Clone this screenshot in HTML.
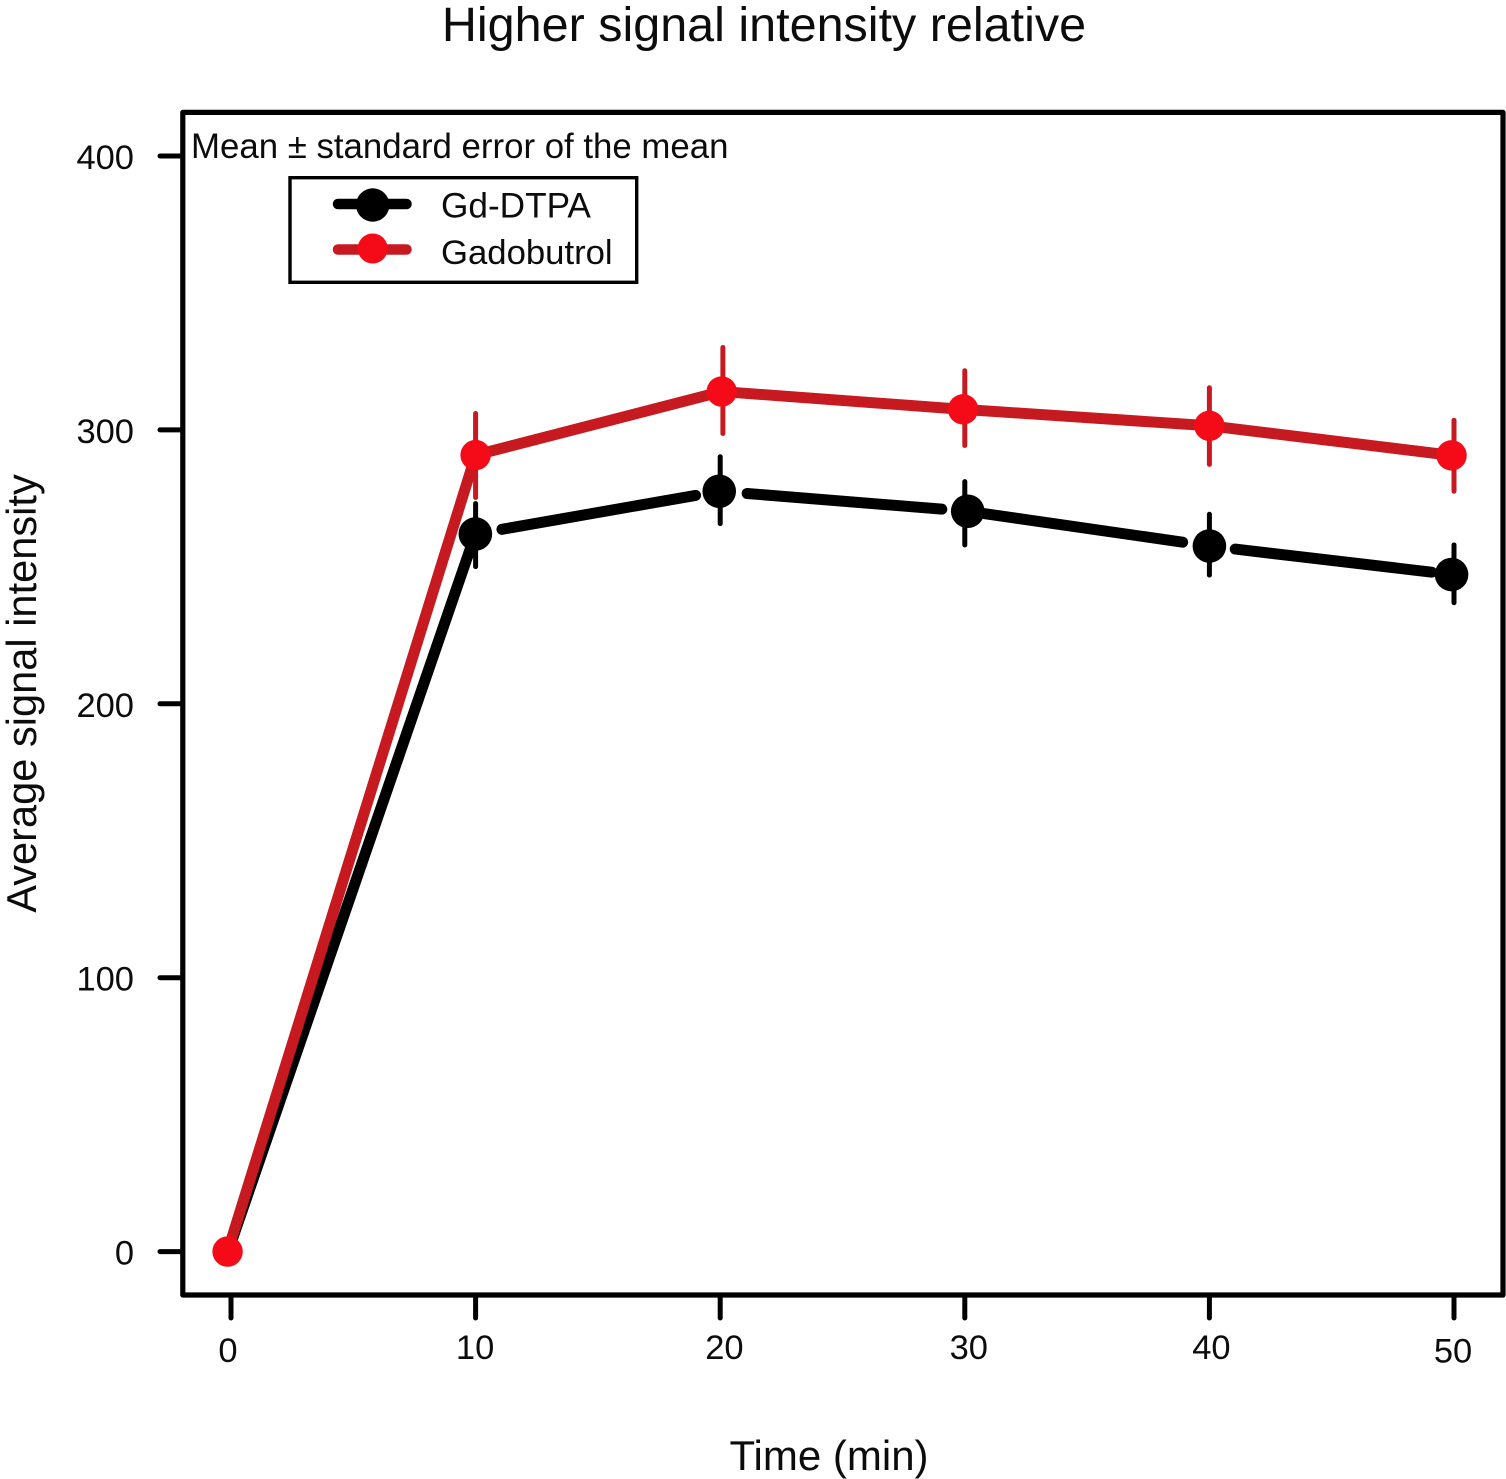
<!DOCTYPE html>
<html>
<head>
<meta charset="utf-8">
<style>
html,body{margin:0;padding:0;background:#fff;}
svg{display:block;}
text{font-family:"Liberation Sans",sans-serif;fill:#0c0c0c;}
</style>
</head>
<body>
<svg id="chart" width="1506" height="1479" viewBox="0 0 1506 1479" xmlns="http://www.w3.org/2000/svg">
<rect x="0" y="0" width="1506" height="1479" fill="#fff"/>
<text x="764" y="41" font-size="48.5" text-anchor="middle">Higher signal intensity relative</text>
<rect x="182.800" y="112.400" width="1320.200" height="1182.600" fill="none" stroke="#000" stroke-width="5.200" stroke-linejoin="round"/>
<text x="191" y="158" font-size="34.800">Mean ± standard error of the mean</text>
<g id="axes"></g>
<g id="series"></g>
<rect x="290" y="177.700" width="346.700" height="104.600" fill="#fff" stroke="#000" stroke-width="3.400"/>
<g>
<line x1="338" y1="204" x2="406.500" y2="204" stroke="#000" stroke-width="10.500" stroke-linecap="round"/>
<circle cx="372.700" cy="205" r="16.700" fill="#000"/>
<text x="441" y="217.500" font-size="35.200">Gd-DTPA</text>
</g>
<g>
<line x1="338" y1="249.500" x2="406.500" y2="249.500" stroke="#c61a20" stroke-width="10.500" stroke-linecap="round"/>
<circle cx="372.700" cy="248.500" r="15" fill="#f50a18"/>
<text x="441" y="264" font-size="34.700">Gadobutrol</text>
</g>
<text transform="translate(36 693.500) rotate(-90)" font-size="41.600" text-anchor="middle">Average signal intensity</text>
<text x="829" y="1470" font-size="42" text-anchor="middle">Time (min)</text>
</svg>
<script>
const xTicks = [0, 10, 20, 30, 40, 50];
const yTicks = [0, 100, 200, 300, 400];
const gdDtpaTimes = [-0.12, 9.99, 19.96, 30.12, 40, 49.9];
const gdDtpaMean = [0, 262, 277.6, 270.3, 257.6, 247.2];
const gdDtpaErrorTimes = [0, 10, 20, 30, 40, 50];
const gdDtpaUpper = [0, 273.1, 290.2, 281.1, 269.2, 258];
const gdDtpaLower = [0, 250.1, 265.8, 258, 247, 236.9];
const gadobutrolTimes = [-0.14, 10, 20.06, 29.93, 40, 49.9];
const gadobutrolMean = [0, 290.8, 314, 307.5, 301.5, 290.7];
const gadobutrolErrorTimes = [0, 10, 20.11, 30, 40, 50];
const gadobutrolUpper = [0, 306, 330.1, 321.6, 315.4, 303.5];
const gadobutrolLower = [0, 275.3, 298.7, 294.3, 287.4, 277.6];
const NS = 'http://www.w3.org/2000/svg';
function xScale(v) { return 231 + v * 24.46; }
function yScale(v) { return 1251.6 - v * 2.739; }
function make(parent, tag, attrs) {
  const el = document.createElementNS(NS, tag);
  for (const k in attrs) el.setAttribute(k, attrs[k]);
  parent.appendChild(el);
  return el;
}
const axes = document.getElementById('axes');
yTicks.forEach(function (t) {
  const tick = make(axes, 'line', { x1: 160, x2: 182, y1: yScale(t), y2: yScale(t), stroke: '#000', 'stroke-width': 5, 'stroke-linecap': 'round' });
  
  
  const label = make(axes, 'text', { x: 134, y: yScale(t) + 13, 'font-size': 34.5, 'text-anchor': 'end' });
  label.textContent = t;
  
  
});
xTicks.forEach(function (t, i) {
  const tick = make(axes, 'line', { x1: xScale(t), x2: xScale(t), y1: 1296, y2: 1318, stroke: '#000', 'stroke-width': 5, 'stroke-linecap': 'round' });
  
  
  const nudgeX = [-3, -0.5, 4.2, 4, 2, -1];
  const nudgeY = [1362, 1359, 1359, 1359, 1359, 1362.5];
  const label = make(axes, 'text', { x: xScale(t) + nudgeX[i], y: nudgeY[i], 'font-size': 34.5, 'text-anchor': 'middle' });
  label.textContent = t;
  
  
});
function drawSeries(name, times, means, errorTimes, upper, lower, lineColor, pointColor, radius, firstRadius, trims) {
  const group = make(document.getElementById('series'), 'g', {});
  
  
  if (trims) {
    for (let i = 0; i < times.length - 1; i++) {
      const x0 = xScale(times[i]), y0 = yScale(means[i]);
      const x1 = xScale(times[i + 1]), y1 = yScale(means[i + 1]);
      const len = Math.hypot(x1 - x0, y1 - y0);
      const a = trims[i][0] / len, b = trims[i][1] / len;
      const seg = make(group, 'line', {
        x1: x0 + (x1 - x0) * a, y1: y0 + (y1 - y0) * a,
        x2: x1 - (x1 - x0) * b, y2: y1 - (y1 - y0) * b,
        stroke: lineColor, 'stroke-width': 11, 'stroke-linecap': 'round'
      });
      
      
    }
  } else {
    const points = times.map(function (t, i) { return xScale(t) + ',' + yScale(means[i]); }).join(' ');
    const line = make(group, 'polyline', { points: points, fill: 'none', stroke: lineColor, 'stroke-width': 11, 'stroke-linejoin': 'round' });
    
    
  }
  times.forEach(function (t, i) {
    if (upper[i] > lower[i]) {
      const bar = make(group, 'line', { x1: xScale(errorTimes[i]), x2: xScale(errorTimes[i]), y1: yScale(upper[i]), y2: yScale(lower[i]), stroke: lineColor, 'stroke-width': 5, 'stroke-linecap': 'round' });
      
      
    }
    const dot = make(group, 'circle', { cx: xScale(t), cy: yScale(means[i]), r: i === 0 ? firstRadius : radius, fill: pointColor });
    
    
  });
}
drawSeries('gd-dtpa', gdDtpaTimes, gdDtpaMean, gdDtpaErrorTimes, gdDtpaUpper, gdDtpaLower, '#000', '#000', 16.8, 14, [[0, 0], [27, 24], [28, 26], [12, 27], [26, 20]]);
drawSeries('gadobutrol', gadobutrolTimes, gadobutrolMean, gadobutrolErrorTimes, gadobutrolUpper, gadobutrolLower, '#c61a20', '#f50a18', 15.2, 15.2, null);
</script>
</body>
</html>
